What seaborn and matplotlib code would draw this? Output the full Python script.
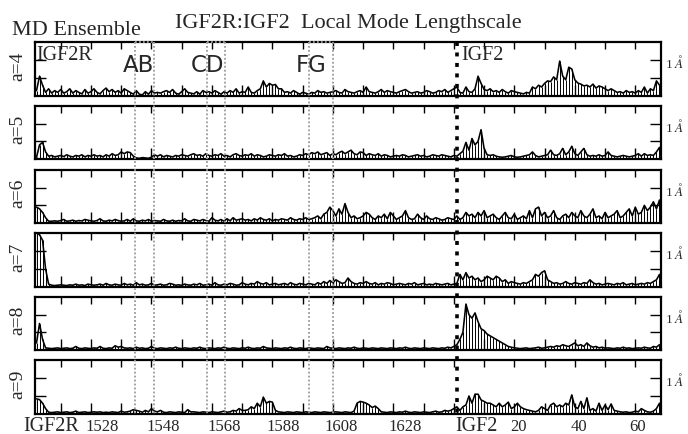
import numpy as np
import pandas as pd
import matplotlib
matplotlib.use("Agg")
import matplotlib.pyplot as plt
import seaborn as sns
from matplotlib.lines import Line2D
from matplotlib.transforms import blended_transform_factory

sns.set_theme(style="white")
plt.rcParams['font.family'] = ['Liberation Serif', 'DejaVu Serif']
plt.rcParams['mathtext.fontset'] = 'stix'

# ---------------- data ----------------
modes = ['a=4', 'a=5', 'a=6', 'a=7', 'a=8', 'a=9']

a4 = [0.15, 0.55, 0.30, 0.10, 0.20, 0.08, 0.15, 0.10, 0.18, 0.08,
      0.12, 0.20, 0.08, 0.15, 0.10, 0.06, 0.18, 0.08, 0.12, 0.20,
      0.10, 0.06, 0.15, 0.22, 0.12, 0.18, 0.10, 0.15, 0.08, 0.20,
      0.15, 0.10, 0.05, 0.15, 0.05, 0.03, 0.12, 0.05, 0.15, 0.08,
      0.10, 0.08, 0.12, 0.15, 0.10, 0.18, 0.08, 0.05, 0.12, 0.20,
      0.10, 0.08, 0.06, 0.12, 0.05, 0.15, 0.10, 0.12, 0.08, 0.15,
      0.10, 0.05, 0.12, 0.08, 0.15, 0.10, 0.20, 0.08, 0.12, 0.10,
      0.25, 0.10, 0.08, 0.15, 0.20, 0.42, 0.25, 0.35, 0.30, 0.32,
      0.20, 0.20, 0.10, 0.12, 0.08, 0.15, 0.10, 0.05, 0.10, 0.08,
      0.05, 0.10, 0.08, 0.15, 0.10, 0.12, 0.08, 0.10, 0.12, 0.15,
      0.10, 0.08, 0.18, 0.12, 0.10, 0.08, 0.12, 0.15, 0.10, 0.25,
      0.12, 0.10, 0.08, 0.12, 0.18, 0.10, 0.15, 0.12, 0.10, 0.08,
      0.12, 0.15, 0.18, 0.12, 0.08, 0.10, 0.12, 0.08, 0.10, 0.15,
      0.12, 0.08, 0.10, 0.15, 0.12, 0.18, 0.10, 0.15, 0.20, 0.25,
      0.10, 0.08, 0.25, 0.12, 0.10, 0.20, 0.55, 0.35, 0.18, 0.15,
      0.20, 0.12, 0.15, 0.10, 0.18, 0.12, 0.08, 0.15, 0.12, 0.10,
      0.08, 0.06, 0.10, 0.08, 0.25, 0.20, 0.30, 0.25, 0.35, 0.42,
      0.40, 0.53, 0.45, 0.97, 0.55, 0.45, 0.80, 0.75, 0.45, 0.36,
      0.33, 0.28, 0.30, 0.25, 0.33, 0.22, 0.28, 0.25, 0.20, 0.15,
      0.20, 0.15, 0.10, 0.12, 0.08, 0.15, 0.10, 0.12, 0.08, 0.15,
      0.10, 0.25, 0.08, 0.20, 0.15, 0.42, 0.30]

a5 = [0.05, 0.40, 0.47, 0.20, 0.08, 0.10, 0.06, 0.08, 0.10, 0.07,
      0.12, 0.08, 0.06, 0.10, 0.08, 0.12, 0.06, 0.10, 0.08, 0.12,
      0.08, 0.10, 0.06, 0.12, 0.08, 0.15, 0.10, 0.12, 0.20, 0.15,
      0.20, 0.18, 0.08, 0.03, 0.02, 0.04, 0.03, 0.02, 0.05, 0.12,
      0.08, 0.12, 0.06, 0.10, 0.08, 0.06, 0.10, 0.08, 0.12, 0.10,
      0.08, 0.12, 0.15, 0.10, 0.12, 0.08, 0.15, 0.10, 0.08, 0.12,
      0.10, 0.15, 0.08, 0.10, 0.06, 0.12, 0.15, 0.10, 0.08, 0.12,
      0.10, 0.15, 0.08, 0.12, 0.10, 0.06, 0.08, 0.12, 0.10, 0.08,
      0.12, 0.10, 0.15, 0.08, 0.10, 0.06, 0.08, 0.12, 0.10, 0.15,
      0.12, 0.18, 0.15, 0.20, 0.12, 0.15, 0.18, 0.10, 0.15, 0.12,
      0.18, 0.22, 0.15, 0.20, 0.25, 0.15, 0.12, 0.20, 0.18, 0.10,
      0.15, 0.12, 0.10, 0.15, 0.08, 0.12, 0.10, 0.06, 0.08, 0.10,
      0.08, 0.12, 0.10, 0.06, 0.08, 0.10, 0.12, 0.08, 0.10, 0.06,
      0.08, 0.12, 0.10, 0.08, 0.12, 0.10, 0.08, 0.06, 0.10, 0.08,
      0.15, 0.22, 0.47, 0.25, 0.58, 0.40, 0.50, 0.83, 0.30, 0.12,
      0.10, 0.12, 0.08, 0.06, 0.05, 0.06, 0.08, 0.10, 0.06, 0.05,
      0.06, 0.08, 0.10, 0.12, 0.20, 0.10, 0.06, 0.08, 0.10, 0.12,
      0.25, 0.12, 0.10, 0.15, 0.30, 0.12, 0.20, 0.36, 0.15, 0.10,
      0.20, 0.30, 0.12, 0.08, 0.10, 0.08, 0.12, 0.08, 0.10, 0.20,
      0.10, 0.08, 0.06, 0.08, 0.10, 0.08, 0.06, 0.08, 0.10, 0.15,
      0.08, 0.15, 0.10, 0.12, 0.10, 0.20, 0.33]

a6 = [0.45, 0.40, 0.30, 0.15, 0.05, 0.05, 0.06, 0.05, 0.07, 0.10,
      0.05, 0.06, 0.08, 0.05, 0.07, 0.06, 0.10, 0.08, 0.06, 0.05,
      0.07, 0.12, 0.06, 0.05, 0.08, 0.06, 0.10, 0.07, 0.05, 0.06,
      0.10, 0.05, 0.12, 0.06, 0.05, 0.08, 0.06, 0.10, 0.05, 0.07,
      0.06, 0.05, 0.10, 0.06, 0.05, 0.08, 0.05, 0.07, 0.06, 0.12,
      0.06, 0.05, 0.10, 0.08, 0.06, 0.10, 0.07, 0.05, 0.15, 0.08,
      0.06, 0.10, 0.05, 0.12, 0.06, 0.15, 0.08, 0.10, 0.12, 0.08,
      0.10, 0.06, 0.12, 0.08, 0.15, 0.10, 0.08, 0.12, 0.06, 0.10,
      0.08, 0.12, 0.10, 0.08, 0.15, 0.10, 0.08, 0.12, 0.10, 0.15,
      0.10, 0.12, 0.15, 0.20, 0.12, 0.25, 0.30, 0.45, 0.35, 0.20,
      0.40, 0.25, 0.55, 0.30, 0.15, 0.20, 0.12, 0.15, 0.20, 0.30,
      0.25, 0.15, 0.10, 0.20, 0.15, 0.25, 0.12, 0.30, 0.20, 0.10,
      0.15, 0.20, 0.35, 0.15, 0.10, 0.12, 0.25, 0.15, 0.10, 0.20,
      0.12, 0.10, 0.15, 0.12, 0.08, 0.10, 0.15, 0.12, 0.10, 0.20,
      0.10, 0.15, 0.30, 0.20, 0.25, 0.15, 0.30, 0.20, 0.35, 0.15,
      0.20, 0.25, 0.15, 0.10, 0.20, 0.30, 0.15, 0.12, 0.25, 0.10,
      0.15, 0.20, 0.12, 0.35, 0.15, 0.40, 0.45, 0.20, 0.30, 0.15,
      0.20, 0.35, 0.15, 0.10, 0.20, 0.25, 0.15, 0.30, 0.20, 0.15,
      0.35, 0.20, 0.15, 0.25, 0.40, 0.15, 0.20, 0.12, 0.30, 0.15,
      0.20, 0.25, 0.35, 0.15, 0.20, 0.30, 0.40, 0.20, 0.45, 0.25,
      0.30, 0.50, 0.35, 0.45, 0.60, 0.40, 0.65]

a7 = [1.50, 1.45, 1.30, 0.50, 0.08, 0.05, 0.04, 0.05, 0.06, 0.05,
      0.04, 0.06, 0.05, 0.08, 0.05, 0.06, 0.04, 0.08, 0.06, 0.05,
      0.06, 0.08, 0.05, 0.10, 0.06, 0.05, 0.08, 0.06, 0.05, 0.10,
      0.06, 0.08, 0.05, 0.12, 0.06, 0.08, 0.05, 0.06, 0.10, 0.05,
      0.06, 0.08, 0.05, 0.06, 0.10, 0.08, 0.05, 0.06, 0.05, 0.08,
      0.06, 0.05, 0.08, 0.06, 0.10, 0.05, 0.06, 0.08, 0.05, 0.12,
      0.06, 0.05, 0.08, 0.06, 0.10, 0.08, 0.05, 0.06, 0.12, 0.08,
      0.06, 0.10, 0.08, 0.15, 0.10, 0.08, 0.12, 0.06, 0.08, 0.10,
      0.06, 0.08, 0.10, 0.06, 0.12, 0.08, 0.06, 0.10, 0.08, 0.06,
      0.10, 0.08, 0.06, 0.12, 0.08, 0.15, 0.10, 0.18, 0.12, 0.20,
      0.15, 0.10, 0.12, 0.25, 0.15, 0.10, 0.08, 0.12, 0.10, 0.15,
      0.10, 0.08, 0.12, 0.06, 0.10, 0.08, 0.12, 0.10, 0.06, 0.08,
      0.10, 0.08, 0.06, 0.10, 0.08, 0.12, 0.06, 0.08, 0.10, 0.06,
      0.08, 0.06, 0.10, 0.08, 0.06, 0.08, 0.10, 0.06, 0.08, 0.10,
      0.35, 0.20, 0.40, 0.25, 0.30, 0.20, 0.25, 0.15, 0.20, 0.30,
      0.25, 0.20, 0.30, 0.25, 0.15, 0.20, 0.10, 0.15, 0.12, 0.10,
      0.08, 0.12, 0.10, 0.15, 0.20, 0.35, 0.30, 0.40, 0.45, 0.20,
      0.15, 0.10, 0.12, 0.08, 0.10, 0.15, 0.10, 0.08, 0.12, 0.10,
      0.08, 0.12, 0.10, 0.20, 0.12, 0.08, 0.10, 0.06, 0.08, 0.10,
      0.08, 0.06, 0.10, 0.08, 0.12, 0.06, 0.08, 0.10, 0.06, 0.08,
      0.10, 0.08, 0.12, 0.10, 0.15, 0.20, 0.35]

a8 = [0.20, 0.75, 0.30, 0.06, 0.05, 0.04, 0.05, 0.06, 0.04, 0.05,
      0.06, 0.04, 0.05, 0.10, 0.05, 0.04, 0.06, 0.05, 0.04, 0.06,
      0.05, 0.10, 0.05, 0.04, 0.06, 0.05, 0.12, 0.08, 0.10, 0.06,
      0.05, 0.06, 0.04, 0.08, 0.05, 0.06, 0.04, 0.05, 0.10, 0.05,
      0.04, 0.06, 0.05, 0.04, 0.06, 0.05, 0.08, 0.05, 0.04, 0.06,
      0.05, 0.04, 0.06, 0.05, 0.08, 0.05, 0.04, 0.06, 0.05, 0.04,
      0.06, 0.05, 0.08, 0.05, 0.04, 0.06, 0.05, 0.04, 0.06, 0.05,
      0.08, 0.05, 0.04, 0.06, 0.05, 0.10, 0.06, 0.05, 0.04, 0.06,
      0.05, 0.04, 0.06, 0.05, 0.08, 0.05, 0.04, 0.06, 0.05, 0.04,
      0.06, 0.05, 0.04, 0.06, 0.05, 0.04, 0.10, 0.06, 0.05, 0.04,
      0.06, 0.05, 0.04, 0.06, 0.05, 0.08, 0.05, 0.04, 0.06, 0.05,
      0.04, 0.06, 0.05, 0.04, 0.06, 0.05, 0.04, 0.06, 0.05, 0.04,
      0.06, 0.05, 0.08, 0.05, 0.04, 0.06, 0.05, 0.04, 0.06, 0.05,
      0.04, 0.06, 0.05, 0.04, 0.06, 0.05, 0.08, 0.06, 0.10, 0.15,
      0.30, 0.50, 1.30, 1.00, 0.90, 1.05, 0.80, 0.60, 0.55, 0.45,
      0.40, 0.35, 0.30, 0.25, 0.20, 0.15, 0.10, 0.08, 0.06, 0.05,
      0.04, 0.05, 0.06, 0.04, 0.05, 0.06, 0.08, 0.05, 0.06, 0.08,
      0.10, 0.08, 0.12, 0.10, 0.15, 0.12, 0.10, 0.15, 0.20, 0.12,
      0.15, 0.10, 0.20, 0.12, 0.08, 0.10, 0.06, 0.08, 0.05, 0.06,
      0.05, 0.04, 0.06, 0.05, 0.08, 0.05, 0.06, 0.04, 0.05, 0.06,
      0.05, 0.08, 0.06, 0.05, 0.10, 0.08, 0.15]

a9 = [0.42, 0.40, 0.30, 0.15, 0.05, 0.04, 0.05, 0.06, 0.04, 0.05,
      0.06, 0.04, 0.05, 0.08, 0.04, 0.05, 0.06, 0.04, 0.05, 0.06,
      0.05, 0.06, 0.04, 0.05, 0.04, 0.06, 0.05, 0.04, 0.08, 0.05,
      0.06, 0.08, 0.12, 0.10, 0.08, 0.05, 0.10, 0.06, 0.15, 0.08,
      0.06, 0.10, 0.05, 0.04, 0.06, 0.05, 0.04, 0.06, 0.05, 0.04,
      0.12, 0.06, 0.06, 0.05, 0.04, 0.06, 0.05, 0.04, 0.06, 0.05,
      0.04, 0.06, 0.08, 0.05, 0.06, 0.10, 0.08, 0.15, 0.10, 0.10,
      0.12, 0.20, 0.15, 0.30, 0.20, 0.47, 0.30, 0.35, 0.33, 0.10,
      0.06, 0.05, 0.04, 0.06, 0.05, 0.04, 0.06, 0.05, 0.04, 0.06,
      0.05, 0.04, 0.06, 0.05, 0.04, 0.06, 0.05, 0.04, 0.05, 0.06,
      0.05, 0.04, 0.06, 0.05, 0.04, 0.08, 0.30, 0.35, 0.33, 0.30,
      0.25, 0.18, 0.22, 0.15, 0.06, 0.05, 0.04, 0.06, 0.05, 0.04,
      0.06, 0.05, 0.08, 0.05, 0.04, 0.06, 0.05, 0.04, 0.06, 0.05,
      0.04, 0.06, 0.08, 0.05, 0.06, 0.10, 0.08, 0.10, 0.15, 0.20,
      0.10, 0.20, 0.25, 0.50, 0.30, 0.55, 0.55, 0.39, 0.35, 0.30,
      0.30, 0.25, 0.20, 0.30, 0.20, 0.25, 0.33, 0.15, 0.20, 0.30,
      0.20, 0.15, 0.12, 0.10, 0.08, 0.06, 0.10, 0.20, 0.15, 0.10,
      0.25, 0.30, 0.20, 0.25, 0.20, 0.30, 0.25, 0.53, 0.20, 0.15,
      0.35, 0.15, 0.45, 0.10, 0.15, 0.08, 0.30, 0.10, 0.25, 0.12,
      0.28, 0.10, 0.08, 0.06, 0.05, 0.06, 0.04, 0.05, 0.08, 0.06,
      0.15, 0.10, 0.06, 0.05, 0.08, 0.15, 0.30]

series = [a4, a5, a6, a7, a8, a9]

x_labels = ['IGF2R', '1528', '1548', '1568', '1588', '1608', '1628',
            'IGF2', '20', '40', '60']
loop_names = ['AB', 'CD', 'FG']

# ---------------- layout ----------------
W, H = 688, 435
fig = plt.figure(figsize=(W / 100, H / 100), dpi=100)

x_left_px, x_right_px = 35, 661
panels_px = [(43, 97), (107, 160), (171, 224), (234, 288), (298, 351), (361, 415)]
x_label_pos = [4.8, 21.7, 41.9, 62.1, 81.6, 100.8, 122.0, 145.5, 159.4, 179.3, 198.8]
x_label_size = [14.5, 12, 12, 12, 12, 12, 12, 14.5, 12, 12, 12]
x_tick_pos = list(range(8, 206, 10))
loop_bounds = [(32.7, 38.7), (56.3, 62.3), (90.2, 98.2)]
loop_label_x = [33.6, 56.6, 90.9]
igf2_x = 139.0

axes = []
for k, (name, vals) in enumerate(zip(modes, series)):
    top, bot = panels_px[k]
    ax = fig.add_axes([x_left_px / W, 1 - bot / H,
                       (x_right_px - x_left_px) / W, (bot - top) / H])
    idx = np.arange(len(vals))
    df = pd.DataFrame({'i': idx, 'v': vals})
    ax.vlines(df['i'], 0, df['v'], color='black', lw=0.7)
    sns.lineplot(data=df, x='i', y='v', ax=ax, color='black', lw=1.15)
    ax.set_xlim(-0.5, len(vals) - 0.5)
    ax.set_ylim(0, 1.5)
    ax.set_xlabel('')
    ax.set_ylabel('')
    for s in ax.spines.values():
        s.set_color('black')
        s.set_linewidth(1.6)
    ax.set_xticks(x_tick_pos)
    ax.set_xticklabels([])
    ax.tick_params(axis='x', which='major', direction='in', top=True, bottom=True,
                   length=5, width=1.0, color='black')
    for t in ax.xaxis.get_major_ticks():
        t.tick1line.set_color('#8a8a8a')
        t.tick1line.set_markersize(8)
    ax.set_yticks([0.5, 1.0])
    ax.set_yticklabels(['', r'1 $\mathit{Å}$'])
    ax.tick_params(axis='y', direction='in', left=True, right=True,
                   labelleft=False, labelright=True, length=8, width=1.0,
                   color='black', labelsize=9.5, pad=3)
    fig.text(18 / W, 1 - ((top + bot) / 2 - 4) / H, name, rotation=90,
             ha='center', va='center', fontsize=14)
    axes.append(ax)

# bottom labels (x in data coordinates of the bottom panel)
axb = axes[-1]
trb = blended_transform_factory(axb.transData, fig.transFigure)
for xp, lab, fs in zip(x_label_pos, x_labels, x_label_size):
    fig.text(xp, 1 - 431 / H, lab, transform=trb, ha='center', va='baseline',
             fontsize=fs)

# loop region boxes (dotted gray) and IGF2 boundary
tr = blended_transform_factory(axes[0].transData, fig.transFigure)
y_top = 1 - 43 / H
y_bot = 1 - 415 / H
for (x0, x1), nm, lx in zip(loop_bounds, loop_names, loop_label_x):
    for xx in (x0, x1):
        fig.add_artist(Line2D([xx, xx], [y_top, y_bot], transform=tr,
                              color='#9a9a9a', lw=1.3, linestyle=(0, (1, 1.2))))
    fig.add_artist(Line2D([x0, x1], [y_top, y_top], transform=tr,
                          color='#9a9a9a', lw=1.3, linestyle=(0, (1, 1.2))))
    fig.text(lx, 1 - 72 / H, nm, transform=tr, ha='center', va='baseline',
             fontsize=16.5, family='DejaVu Sans')

fig.add_artist(Line2D([igf2_x, igf2_x], [y_top, 1 - 415 / H], transform=tr,
                      color='black', lw=2.6, linestyle=(0, (1.1, 1.8))))

fig.text(36 / W, 1 - 60 / H, 'IGF2R', ha='left', va='baseline', fontsize=14.5)
fig.text(igf2_x + 1.5, 1 - 60 / H, 'IGF2', transform=tr, ha='left', va='baseline',
         fontsize=14.5)

fig.text(12 / W, 1 - 35 / H, 'MD Ensemble', ha='left', va='baseline', fontsize=16)
fig.text(348 / W, 1 - 28 / H, 'IGF2R:IGF2  Local Mode Lengthscale', ha='center',
         va='baseline', fontsize=16)

fig.savefig('out.png', dpi=100)
